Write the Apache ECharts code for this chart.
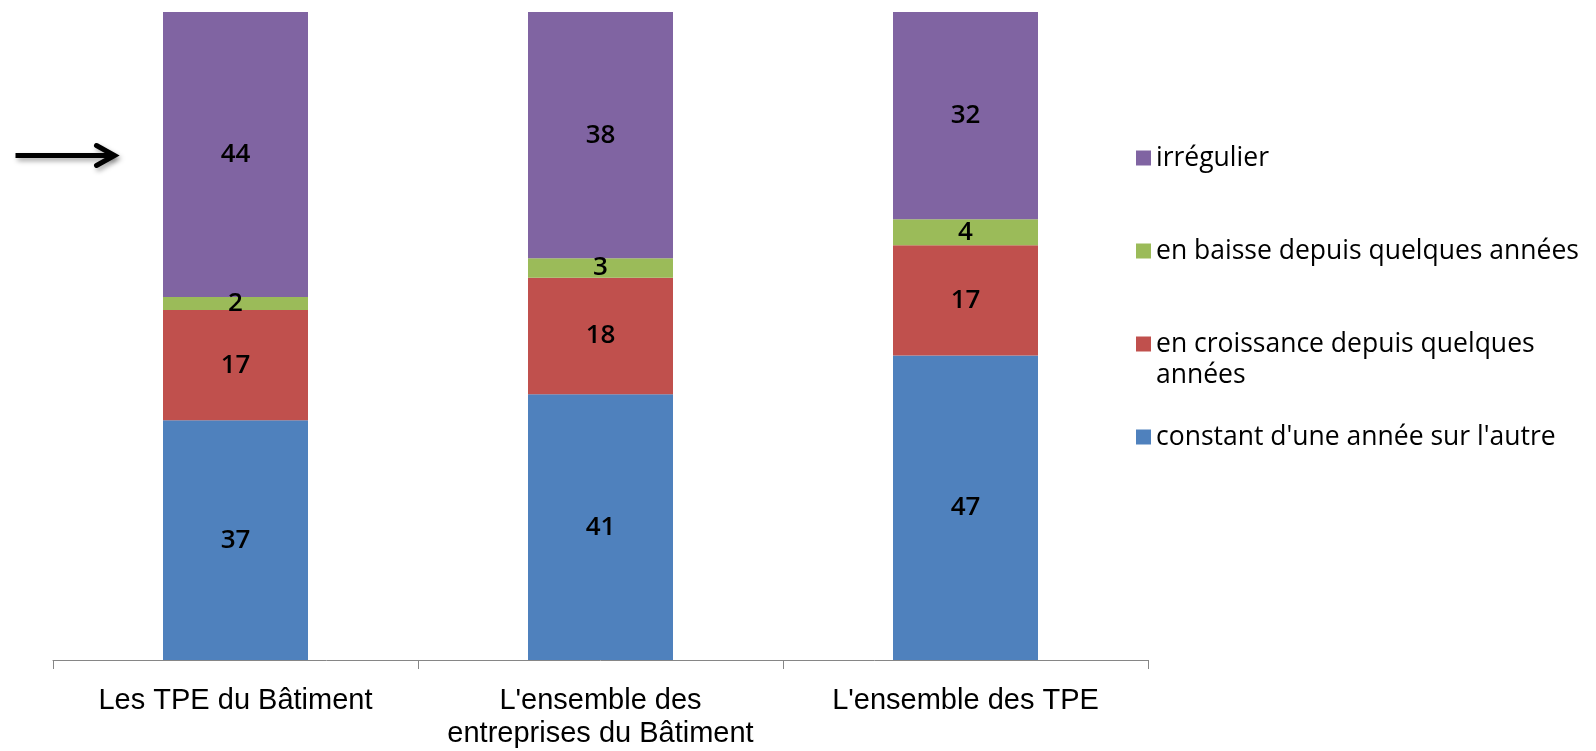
<!DOCTYPE html>
<html>
<head>
<meta charset="utf-8">
<script src="https://cdn.jsdelivr.net/npm/echarts@6/dist/echarts.min.js"></script>
<style>
  html, body { margin: 0; padding: 0; background: #fff; }
  #main { width: 1596px; height: 751px; }
</style>
</head>
<body>
<div id="main"></div>
<script>
var categories = ["Les TPE du Bâtiment", "L'ensemble des\nentreprises du Bâtiment", "L'ensemble des TPE"];
var constant = [37, 41, 47];
var croissance = [17, 18, 17];
var baisse = [2, 3, 4];
var irregulier = [44, 38, 32];

var seriesNames = ["constant d'une année sur l'autre", "en croissance depuis quelques années", "en baisse depuis quelques années", "irrégulier"];
var seriesColors = ["#4F81BD", "#C0504D", "#9BBB59", "#8064A2"];
var seriesData = [constant, croissance, baisse, irregulier];

var chart = echarts.init(document.getElementById("main"));

var series = [];
for (var i = 0; i < seriesData.length; i++) {
    series.push({
        name: seriesNames[i],
        type: "bar",
        stack: "total",
        barWidth: 145,
        data: seriesData[i],
        itemStyle: { color: seriesColors[i] },
        label: {
            show: true,
            position: "inside",
            color: "#000",
            fontFamily: "Open Sans",
            fontWeight: 600,
            fontSize: 26
        }
    });
}

var option = {
    animation: false,
    backgroundColor: "#fff",
    grid: { left: 53, right: 448, top: 12, bottom: 91 },
    xAxis: {
        type: "category",
        data: categories,
        axisLine: { lineStyle: { color: "#868686", width: 1 } },
        axisTick: { show: true, interval: 0, length: 9, lineStyle: { color: "#868686" } },
        axisLabel: {
            interval: 0,
            hideOverlap: false,
            color: "#000",
            fontFamily: "Liberation Sans",
            fontSize: 29,
            lineHeight: 33,
            margin: 24
        }
    },
    yAxis: {
        type: "value",
        min: 0,
        max: 100,
        show: false
    },
    legend: {
        orient: "vertical",
        left: 1136,
        top: 111.5,
        padding: 0,
        itemGap: 0,
        itemWidth: 15,
        itemHeight: 15,
        icon: "rect",
        data: seriesNames.slice().reverse(),
        formatter: function (name) {
            // Excel coupe cette ligne au bord du graphique
            if (name === seriesNames[1]) {
                return "\nen croissance depuis quelques\nannées";
            }
            return "\n" + name + "\n";
        },
        textStyle: {
            color: "#000",
            fontFamily: "Open Sans",
            fontSize: 26.5,
            lineHeight: 31
        }
    },
    graphic: [{
        type: "group",
        left: 13,
        top: 143,
        children: [{
            type: "line",
            shape: { x1: 0, y1: 12, x2: 98, y2: 12 },
            style: {
                stroke: "#000", lineWidth: 5,
                shadowBlur: 5, shadowColor: "rgba(0,0,0,0.35)", shadowOffsetX: 2, shadowOffsetY: 3
            }
        }, {
            type: "polyline",
            shape: { points: [[81, 2], [99, 12], [81, 22]] },
            style: {
                stroke: "#000", lineWidth: 5, fill: null, lineJoin: "miter", lineCap: "round",
                shadowBlur: 5, shadowColor: "rgba(0,0,0,0.35)", shadowOffsetX: 2, shadowOffsetY: 3
            }
        }]
    }],
    series: series
};

chart.setOption(option);
</script>
</body>
</html>
